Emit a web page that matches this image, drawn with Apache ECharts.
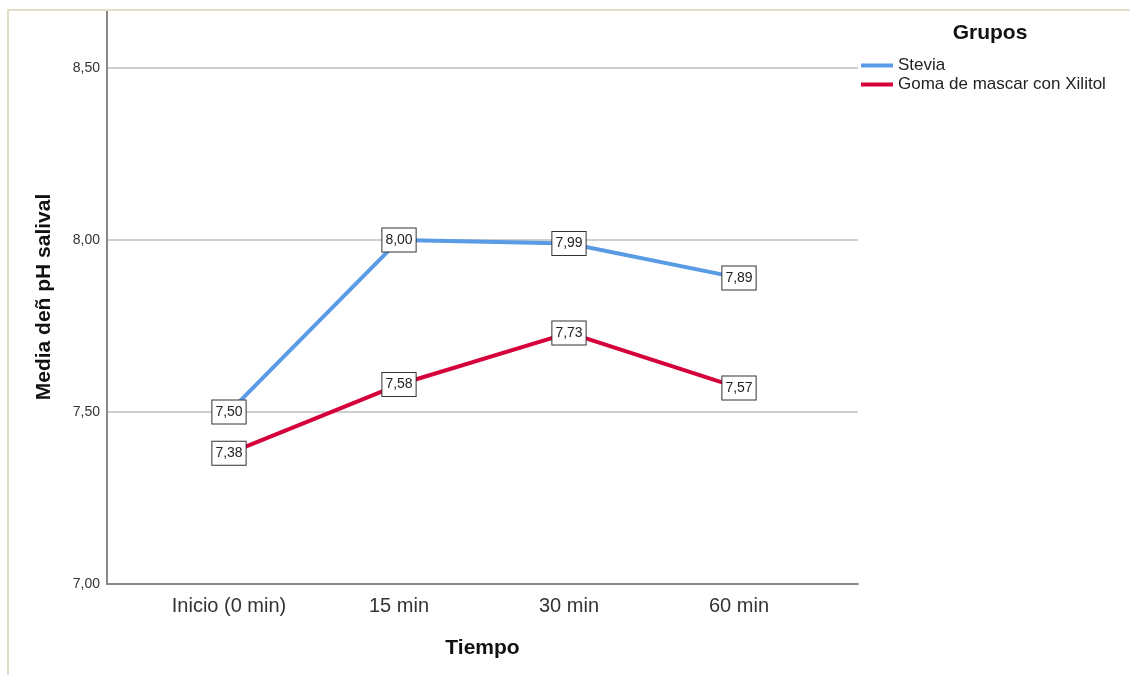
<!DOCTYPE html>
<html>
<head>
<meta charset="utf-8">
<script src="https://cdn.jsdelivr.net/npm/echarts@6/dist/echarts.min.js"></script>
<style>
  html, body { margin: 0; padding: 0; background: #fff; }
  #chart { width: 1130px; height: 675px; }
</style>
</head>
<body>
<div id="chart"></div>
<script>
// categorias y medias
var categorias = ["Inicio (0 min)", "15 min", "30 min", "60 min"];
var grupos = ["Stevia", "Goma de mascar con Xilitol"];
var stevia = [7.50, 8.00, 7.99, 7.89];
var xilitol = [7.38, 7.58, 7.73, 7.57];
var colores = ["#5a9be6", "#d5003a"];

var yMin = 7, yMax = 8.669;
var fuente = "Liberation Sans, Arial, sans-serif";

function coma(v) {
  return v.toFixed(2).replace(".", ",");
}

var etiqueta = {
  show: true,
  position: "inside",
  formatter: function (p) { return coma(p.value); },
  color: "#222",
  fontSize: 14,
  fontFamily: fuente,
  backgroundColor: "#fff",
  borderColor: "#333",
  borderWidth: 1,
  padding: [5, 3, 4, 3]
};

function serie(nombre, datos, color) {
  return {
    name: nombre,
    type: "line",
    xAxisIndex: 1,
    yAxisIndex: 1,
    data: datos,
    symbol: "circle",
    symbolSize: 1,
    itemStyle: { color: color },
    lineStyle: { color: color, width: 4 },
    label: etiqueta,
    z: 3
  };
}

var chart = echarts.init(document.getElementById("chart"));
chart.setOption({
  animation: false,
  backgroundColor: "#fff",
  textStyle: { fontFamily: fuente },
  grid: [
    { left: 107, right: 272, top: 10, bottom: 91 },
    { left: 144, width: 680, top: 10, bottom: 91 }
  ],
  xAxis: [
    {
      gridIndex: 0,
      type: "value",
      min: 0, max: 1,
      axisLine: { show: true, lineStyle: { color: "#888", width: 2 } },
      axisTick: { show: false },
      axisLabel: { show: false },
      splitLine: { show: false },
      name: "Tiempo",
      nameLocation: "middle",
      nameGap: 54,
      nameTextStyle: { fontSize: 21, fontWeight: "bold", color: "#111" }
    },
    {
      gridIndex: 1,
      type: "category",
      data: categorias,
      boundaryGap: true,
      axisLine: { show: false },
      axisTick: { show: false },
      axisLabel: { margin: 12, fontSize: 20, color: "#333" }
    }
  ],
  yAxis: [
    {
      gridIndex: 0,
      type: "value",
      min: yMin, max: yMax, interval: 0.5,
      axisLine: { show: true, lineStyle: { color: "#888", width: 2 } },
      axisTick: { show: false },
      axisLabel: {
        margin: 7, fontSize: 14, color: "#333", showMaxLabel: false,
        formatter: function (v) { return coma(v); }
      },
      splitLine: { show: true, showMaxLine: false, lineStyle: { color: "#cfcfcf", width: 2 } },
      name: "Media deñ pH salival",
      nameLocation: "middle",
      nameRotate: 90,
      nameGap: 52,
      nameTextStyle: { fontSize: 21, fontWeight: "bold", color: "#111" }
    },
    {
      gridIndex: 1,
      type: "value",
      min: yMin, max: yMax,
      show: false
    }
  ],
  legend: {
    orient: "vertical",
    left: 856,
    top: 52,
    icon: "rect",
    itemWidth: 32,
    itemHeight: 4,
    itemGap: 2,
    textStyle: { fontSize: 17, color: "#222", padding: [0, 0, 0, 0] },
    data: grupos
  },
  title: {
    text: "Grupos",
    left: 985,
    top: 18,
    textAlign: "center",
    textStyle: { fontSize: 21, fontWeight: "bold", color: "#111" }
  },
  graphic: [{
    type: "polyline",
    shape: { points: [[8, 675], [8, 10], [1130, 10]] },
    style: { stroke: "#e2ddc6", lineWidth: 2, fill: null },
    z: 10
  }],
  series: [
    serie(grupos[0], stevia, colores[0]),
    serie(grupos[1], xilitol, colores[1])
  ]
});
</script>
</body>
</html>
